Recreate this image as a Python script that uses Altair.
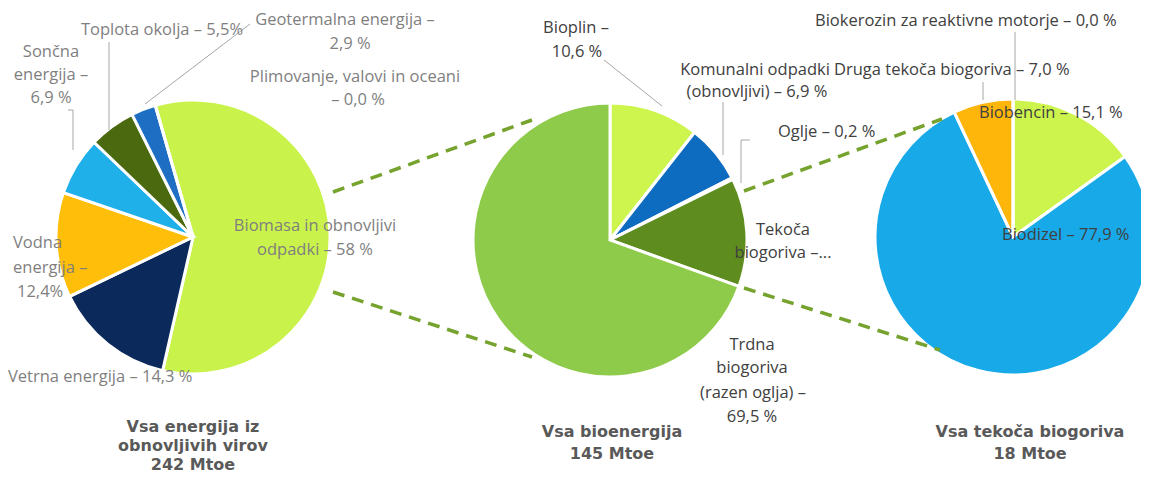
import math
import altair as alt
import pandas as pd

# ---------------- data ----------------
renew_labels = ["Biomasa in obnovljivi odpadki", "Vetrna energija", "Vodna energija",
                "Sončna energija", "Toplota okolja", "Geotermalna energija",
                "Plimovanje, valovi in oceani"]
renew_shares = [58.0, 14.3, 12.4, 6.9, 5.5, 2.9, 0.0]
renew_colors = ["#C9F24B", "#0B2A5B", "#FFBE0A", "#1FB0EA", "#4B6A0F", "#1E6EC4", "#7F7F7F"]

bio_labels = ["Bioplin", "Komunalni odpadki (obnovljivi)", "Oglje", "Tekoča biogoriva",
              "Trdna biogoriva (razen oglja)"]
bio_shares = [10.6, 6.9, 0.2, 12.8, 69.5]
bio_colors = ["#CDF54E", "#0E6CC0", "#3A3A3A", "#5F8C1E", "#8FCB4A"]

liquid_labels = ["Biobencin", "Biodizel", "Druga tekoča biogoriva", "Biokerozin za reaktivne motorje"]
liquid_shares = [15.1, 77.9, 7.0, 0.0]
liquid_colors = ["#CCF44C", "#18A9E8", "#FFB60B", "#7F7F7F"]

titles = [["Vsa energija iz", "obnovljivih virov", "242 Mtoe"],
          ["Vsa bioenergija", "145 Mtoe"],
          ["Vsa tekoča biogoriva", "18 Mtoe"]]

# ---------------- layout (reference pixel frame) ----------------
W, H = 1133, 466
XS = alt.Scale(domain=[8, 8 + W], range=[0, W], nice=False, zero=False)
YS = alt.Scale(domain=[8, 8 + H], range=[0, H], nice=False, zero=False)

pies = [  # cx, cy, r, start angle (deg)
    (193, 237, 137, -16),
    (610, 240, 137, 0),
    (1013, 237, 138, 0),
]

GRAY1 = "#7F7F7F"
GRAY2 = "#404040"
LABEL_SIZE = 16.5

# label lines: text, x, y, color, align
labels = [
    ("Toplota okolja – 5,5%", 162, 30, GRAY1, "center"),
    ("Geotermalna energija –", 345, 20, GRAY1, "center"),
    ("2,9 %", 350, 44, GRAY1, "center"),
    ("Plimovanje, valovi in oceani", 355, 77, GRAY1, "center"),
    ("– 0,0 %", 358, 100, GRAY1, "center"),
    ("Sončna", 51, 52, GRAY1, "center"),
    ("energija –", 51, 75, GRAY1, "center"),
    ("6,9 %", 51, 98, GRAY1, "center"),
    ("Vodna", 13, 243, GRAY1, "left"),
    ("energija –", 13, 268, GRAY1, "left"),
    ("12,4%", 17, 292, GRAY1, "left"),
    ("Vetrna energija – 14,3 %", 8, 377, GRAY1, "left"),
    ("Biomasa  in obnovljivi", 315, 226, GRAY1, "center"),
    ("odpadki – 58 %", 315, 250, GRAY1, "center"),
    ("Bioplin –", 576, 28, GRAY2, "center"),
    ("10,6 %", 577, 52, GRAY2, "center"),
    ("Komunalni odpadki", 755, 70, GRAY2, "center"),
    ("(obnovljivi) –   6,9 %", 757, 92, GRAY2, "center"),
    ("Oglje – 0,2 %", 778, 132, GRAY2, "left"),
    ("Tekoča", 783, 230, GRAY2, "center"),
    ("biogoriva –...", 783, 253, GRAY2, "center"),
    ("Trdna", 752, 345, GRAY2, "center"),
    ("biogoriva", 752, 368, GRAY2, "center"),
    ("(razen oglja) –", 753, 393, GRAY2, "center"),
    ("69,5 %", 752, 417, GRAY2, "center"),
    ("Biokerozin za reaktivne motorje – 0,0 %", 815, 21, GRAY2, "left"),
    ("Druga tekoča biogoriva – 7,0 %", 834, 70, GRAY2, "left"),
    ("Biobencin – 15,1 %", 979, 113, GRAY2, "left"),
    ("Biodizel – 77,9 %", 1002, 235, GRAY2, "left"),
]

title_pos = [(193, 427), (612, 432), (1030, 432)]
TITLE_STEPS = [19, 22, 22]

leaders = [  # x1, y1, x2, y2
    (109, 42, 109, 130),
    (250, 24, 145, 104),
    (68, 110, 73, 110), (73, 110, 73, 150),
    (604, 60, 662, 106),
    (723, 102, 723, 155),
    (750, 140, 741, 140), (741, 140, 741, 183),
    (1015, 32, 1015, 100),
    (983, 82, 983, 100),
]

connectors = [
    (333, 192, 532, 120),
    (333, 292, 532, 357),
    (744, 191, 942, 119),
    (744, 288, 940, 350),
]

# ---------------- layers ----------------
def pie_layer(lbls, shares, colors, cx, cy, r, start_deg):
    df = pd.DataFrame({"label": lbls, "share": shares, "color": colors,
                       "order": list(range(len(lbls)))})
    s = math.radians(start_deg)
    return alt.Chart(df).mark_arc(outerRadius=r, stroke="white", strokeWidth=3).encode(
        theta=alt.Theta("share:Q", stack=True,
                        scale=alt.Scale(domain=[0, 100], range=[s, s + 2 * math.pi])),
        order=alt.Order("order:Q"),
        color=alt.Color("color:N", scale=None, legend=None),
        x=alt.value(cx - 8),
        y=alt.value(cy - 8),
    )

layers = []
for (lbls, sh, cols), (cx, cy, r, st) in zip(
        [(renew_labels, renew_shares, renew_colors),
         (bio_labels, bio_shares, bio_colors),
         (liquid_labels, liquid_shares, liquid_colors)], pies):
    layers.append(pie_layer(lbls, sh, cols, cx, cy, r, st))

seg_df = pd.DataFrame(connectors, columns=["x", "y", "x2", "y2"])
layers.append(alt.Chart(seg_df).mark_rule(color="#76A22E", strokeWidth=3.5,
                                          strokeDash=[12, 8]).encode(
    x=alt.X("x:Q", scale=XS, axis=None), y=alt.Y("y:Q", scale=YS, axis=None),
    x2="x2:Q", y2="y2:Q"))

lead_df = pd.DataFrame(leaders, columns=["x", "y", "x2", "y2"])
layers.append(alt.Chart(lead_df).mark_rule(color="#A6A6A6", strokeWidth=1).encode(
    x=alt.X("x:Q", scale=XS, axis=None), y=alt.Y("y:Q", scale=YS, axis=None),
    x2="x2:Q", y2="y2:Q"))

lab_df = pd.DataFrame(labels, columns=["text", "x", "y", "color", "align"])
for al in ["left", "center"]:
    sub = lab_df[lab_df["align"] == al]
    layers.append(alt.Chart(sub).mark_text(align=al, baseline="middle", font="Open Sans",
                                           fontSize=LABEL_SIZE).encode(
        x=alt.X("x:Q", scale=XS, axis=None), y=alt.Y("y:Q", scale=YS, axis=None),
        text="text:N", color=alt.Color("color:N", scale=None, legend=None)))

trows = []
for lines, (tx, ty), step in zip(titles, title_pos, TITLE_STEPS):
    for i, t in enumerate(lines):
        trows.append({"text": t, "x": tx, "y": ty + i * step})
layers.append(alt.Chart(pd.DataFrame(trows)).mark_text(
    align="center", baseline="middle", font="DejaVu Sans", fontWeight="bold",
    fontSize=16, color="#595959").encode(
    x=alt.X("x:Q", scale=XS, axis=None), y=alt.Y("y:Q", scale=YS, axis=None),
    text="text:N"))

chart = alt.layer(*layers).resolve_scale(theta="independent").properties(
    width=W, height=H, padding=0,
    autosize=alt.AutoSizeParams(type="none"),
    background="white",
).configure_view(stroke=None)

chart.save("out.html", embed_options={"renderer": "svg", "actions": False})
